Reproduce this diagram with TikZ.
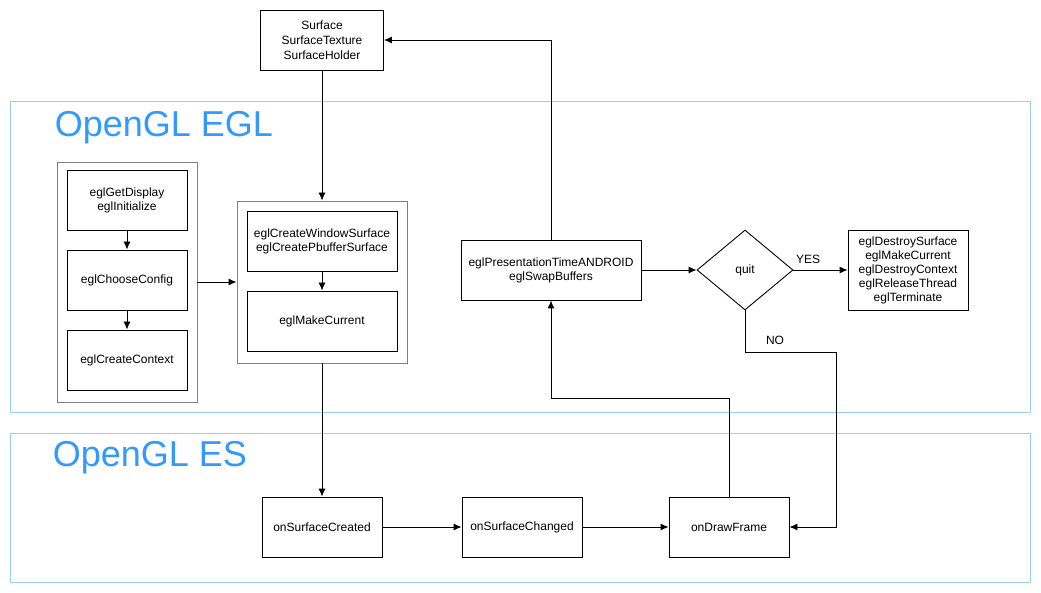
\documentclass[tikz,border=0pt]{standalone}
\usepackage{fontspec}
\setmainfont{Liberation Sans}
\usetikzlibrary{shapes.geometric,arrows.meta}
\definecolor{panelblue}{HTML}{99CCFF}
\definecolor{titleblue}{HTML}{3399FF}
\definecolor{grpgray}{HTML}{808080}

\begin{document}
\begin{tikzpicture}[>={Latex[length=8pt,width=7pt]},x=1pt,y=-1pt,line width=0.9pt,
	box/.style={draw,minimum width=120pt,minimum height=60pt,inner sep=0pt,align=center,font=\fontsize{12}{14}\selectfont},
	grp/.style={draw=grpgray,inner sep=0pt},
	title/.style={anchor=west,text=titleblue,font=\fontsize{36}{40}\selectfont},
	lbl/.style={font=\fontsize{12}{14}\selectfont}]
	\useasboundingbox (0,0) rectangle (1041,593);
	% panels
	\draw[panelblue] (10,101) rectangle (1030,412);
	\draw[panelblue] (10,433) rectangle (1030,582);
	\node[title] (egltitle) at (51,128) {OpenGL EGL};
	\node[title] (estitle) at (49,458) {OpenGL ES};
	% surface
	\node[box,minimum width=123pt,font=\fontsize{12}{15}\selectfont] (surf) at (322,40) {Surface\\SurfaceTexture\\SurfaceHolder};
	% egl setup
	\node[grp,minimum width=140pt,minimum height=240pt] (g1) at (127,282) {};
	\node[box] (display) at (127,200) {eglGetDisplay\\eglInitialize};
	\node[box] (config) at (127,280) {eglChooseConfig};
	\node[box] (context) at (127,360) {eglCreateContext};
	\node[grp,minimum width=170pt,minimum height=162pt] (g2) at (322,282) {};
	\node[box,minimum width=150pt] (winsurf) at (322,241) {eglCreateWindowSurface\\eglCreatePbufferSurface};
	\node[box,minimum width=150pt] (current) at (322,321) {eglMakeCurrent};
	% frame loop
	\node[box,minimum width=180pt] (present) at (551,270) {eglPresentationTimeANDROID\\eglSwapBuffers};
	\node[draw,diamond,inner sep=0pt,minimum width=96pt,minimum height=80pt,lbl] (quit) at (745,270) {quit};
	\node[box,minimum height=80pt] (stop) at (908,270) {eglDestroySurface\\eglMakeCurrent\\eglDestroyContext\\eglReleaseThread\\eglTerminate};
	% renderer
	\node[box] (created) at (322,527) {onSurfaceCreated};
	\node[box] (changed) at (522,527) {onSurfaceChanged};
	\node[box] (frame) at (729,527) {onDrawFrame};
	\coordinate (back) at (551,398);
	\coordinate (nobend) at (836,352);
	% connectors
	\draw[->] (display) -- (config);
	\draw[->] (config) -- (context);
	\draw[->] (winsurf) -- (current);
	\draw[->] (g1) -- (g2);
	\draw[->] (surf) -- (g2);
	\draw[->] (g2) -- (created);
	\draw[->] (created) -- (changed);
	\draw[->] (changed) -- (frame);
	\draw[->] (frame.north) |- (back) -- (present.south);
	\draw[->] (present.north) |- (surf.east);
	\draw[->] (present) -- (quit);
	\draw[->] (quit) -- (stop);
	\draw[->] (quit.south) |- (nobend) |- (frame.east);
	\node[lbl] (yes) at (808,259) {YES};
	\node[lbl] (no) at (775,340) {NO};
\end{tikzpicture}
\end{document}
